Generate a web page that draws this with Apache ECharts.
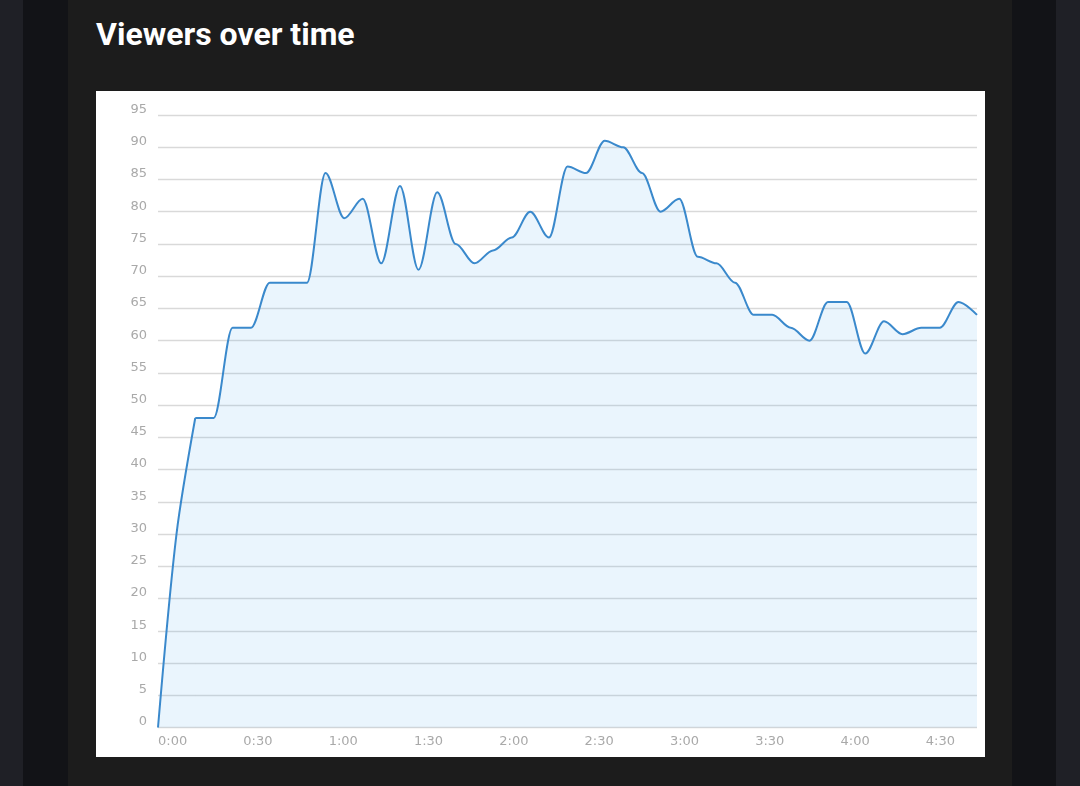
<!DOCTYPE html>
<html>
<head>
<meta charset="utf-8">
<script src="https://cdn.jsdelivr.net/npm/echarts@6/dist/echarts.min.js"></script>
<style>
  html, body { margin:0; padding:0; width:1080px; height:786px; overflow:hidden; background:#1f2026; }
  .stripe { position:absolute; top:0; height:786px; }
  #title { position:absolute; left:96px; top:18px; margin:0; font-family:Roboto, "Noto Sans", sans-serif; font-weight:700; font-size:32px; line-height:32px; color:#ffffff; white-space:nowrap; }
  #chart { position:absolute; left:96px; top:91px; width:889px; height:666px; background:#ffffff; }
</style>
</head>
<body>
<div class="stripe" style="left:23px;width:45px;background:#121317;"></div>
<div class="stripe" style="left:68px;width:944px;background:#1c1c1c;"></div>
<div class="stripe" style="left:1012px;width:44px;background:#121317;"></div>
<h2 id="title">Viewers over time</h2>
<div id="chart"></div>
<script>
// elapsed time of each sample, in minutes
const times = [0, 6.5, 13.1, 19.6, 26.2, 32.7, 39.3, 45.8, 52.4, 58.9,
  65.5, 72, 78.5, 85.1, 91.6, 98.2, 104.7, 111.3, 117.8, 124.4,
  130.9, 137.5, 144, 150.5, 157.1, 163.6, 170.2, 176.7, 183.3, 189.8,
  196.4, 202.9, 209.5, 216, 222.5, 229.1, 235.6, 242.2, 248.7, 255.3,
  261.8, 268.4, 274.9, 281.5, 288];
// viewer counts
const viewers = [0, 30, 48, 48, 62, 62, 69, 69, 69, 86,
  79, 82, 72, 84, 71, 83, 75, 72, 74, 76,
  80, 76, 87, 86, 91, 90, 86, 80, 82, 73,
  72, 69, 64, 64, 62, 60, 66, 66, 58, 63,
  61, 62, 62, 66, 64];
const yMin = 0, yMax = 95, yStep = 5;
const xMin = 0, xMax = 288, xStep = 30;

function fmtTime(v) {
  const h = Math.floor(v / 60);
  const m = Math.round(v % 60);
  return h + ':' + (m < 10 ? '0' + m : m);
}

const points = times.map((t, i) => [t, viewers[i]]);
// opening ramp is drawn with free smoothing, the rest with x-monotone smoothing
const rampEnd = 2;
const lineColor = '#3a89cc';
const fill = 'rgba(54,162,235,0.15)';

const chart = echarts.init(document.getElementById('chart'), null, { renderer: 'canvas' });
chart.setOption({
  animation: false,
  backgroundColor: '#ffffff',
  grid: { left: 62, right: 8, top: 24, bottom: 29.5, containLabel: false },
  xAxis: {
    type: 'value',
    min: xMin, max: xMax, interval: xStep,
    axisLine: { show: false },
    axisTick: { show: false },
    splitLine: { show: false },
    axisLabel: {
      formatter: fmtTime,
      align: 'left',
      margin: 8,
      color: '#a9a9a9',
      fontFamily: 'DejaVu Sans',
      fontSize: 13,
      showMaxLabel: false
    }
  },
  yAxis: {
    type: 'value',
    min: yMin, max: yMax, interval: yStep,
    axisLine: { show: false },
    axisTick: { show: false },
    splitLine: { show: true, lineStyle: { color: '#d9d9d9', width: 1.3 } },
    axisLabel: {
      margin: 11,
      color: '#a9a9a9',
      fontFamily: 'DejaVu Sans',
      fontSize: 13,
      verticalAlign: 'bottom',
      lineHeight: 11
    }
  },
  series: [{
    type: 'line',
    data: points.slice(0, rampEnd + 1),
    smooth: 0.3,
    showSymbol: false,
    lineStyle: { color: lineColor, width: 2 },
    itemStyle: { color: lineColor },
    areaStyle: { color: fill, origin: 'start' }
  }, {
    type: 'line',
    data: points.slice(rampEnd),
    smooth: 0.33,
    smoothMonotone: 'x',
    showSymbol: false,
    lineStyle: { color: lineColor, width: 2 },
    itemStyle: { color: lineColor },
    areaStyle: { color: fill, origin: 'start' }
  }]
});
</script>
</body>
</html>
